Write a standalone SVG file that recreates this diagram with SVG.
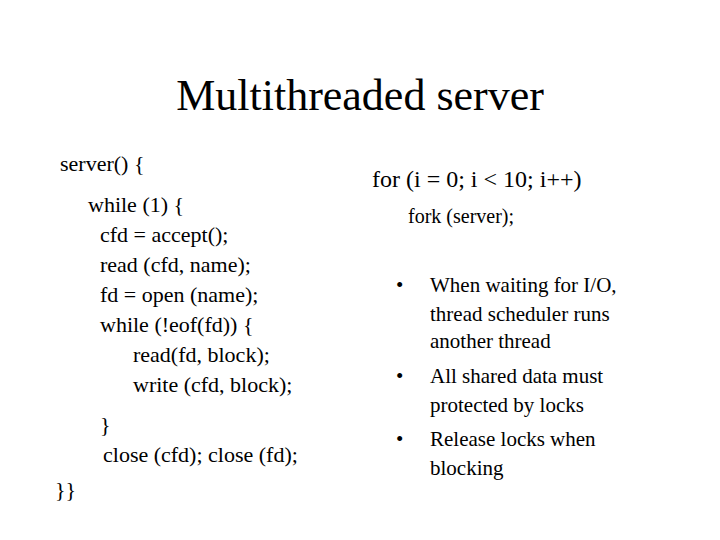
<svg xmlns="http://www.w3.org/2000/svg" width="720" height="540" viewBox="0 0 720 540">
<style>
text{font-family:"Liberation Serif","Times New Roman",serif;fill:#000}
.c{font-size:22px}
.b{font-size:21px}
</style>
<rect width="720" height="540" fill="#fff"/>
<text x="360" y="110" font-size="44" text-anchor="middle">Multithreaded server</text>
<g class="c">
<text x="60" y="171" class="c">server() {</text>
<text x="88" y="212" class="c">while (1) {</text>
<text x="100" y="242" class="c">cfd = accept();</text>
<text x="100" y="272" class="c">read (cfd, name);</text>
<text x="100" y="302" class="c">fd = open (name);</text>
<text x="100" y="332" class="c">while (!eof(fd)) {</text>
<text x="133" y="362" class="c">read(fd, block);</text>
<text x="133" y="392" class="c">write (cfd, block);</text>
<text x="100" y="432" class="c">}</text>
<text x="103" y="462" class="c">close (cfd); close (fd);</text>
<text x="55" y="497" class="c">}}</text>
</g>
<text x="372" y="187" font-size="24">for (i = 0; i &lt; 10; i++)</text>
<text x="408" y="223" font-size="20">fork (server);</text>
<g>
<text x="396" y="292" class="b">•</text>
<text x="430" y="292" class="b">When waiting for I/O,</text>
<text x="430" y="321" class="b">thread scheduler runs</text>
<text x="430" y="348" class="b">another thread</text>
<text x="396" y="383" class="b">•</text>
<text x="430" y="383" class="b">All shared data must</text>
<text x="430" y="412" class="b">protected by locks</text>
<text x="396" y="446" class="b">•</text>
<text x="430" y="446" class="b">Release locks when</text>
<text x="430" y="475" class="b">blocking</text>
</g>
</svg>
